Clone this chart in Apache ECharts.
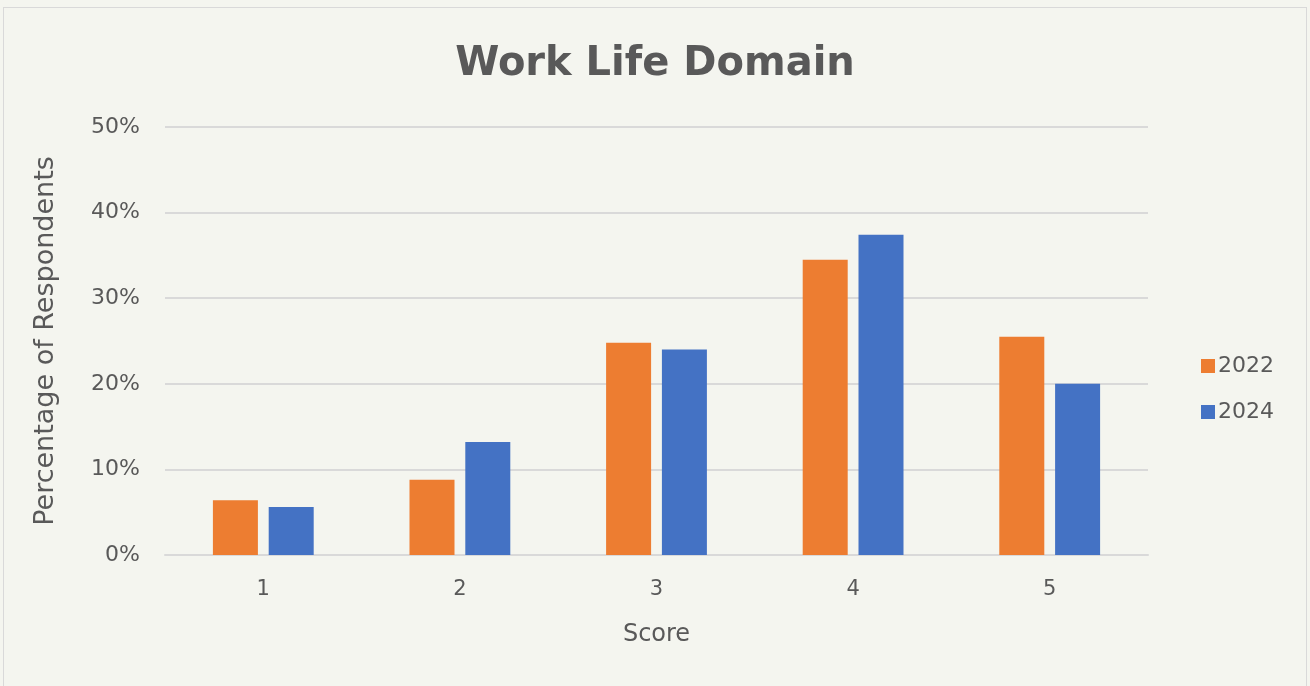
<!DOCTYPE html>
<html>
<head>
<meta charset="utf-8">
<script src="https://cdn.jsdelivr.net/npm/echarts@6/dist/echarts.min.js"></script>
<style>
  html, body { margin: 0; padding: 0; background: #f4f5ef; }
  #frame { position: absolute; left: 3px; top: 7px; width: 1304px; height: 690px; border: 1px solid #d9d9d9; box-sizing: border-box; }
  #main { width: 1310px; height: 686px; }
</style>
</head>
<body>
<div id="frame"></div>
<div id="main"></div>
<script>
  // data
  var scores = ['1', '2', '3', '4', '5'];
  var years = ['2022', '2024'];
  var data2022 = [6.4, 8.8, 24.8, 34.5, 25.5];
  var data2024 = [5.6, 13.2, 24.0, 37.4, 20.0];

  var textColor = '#595959';
  var font = '"DejaVu Sans", sans-serif';

  var myChart = echarts.init(document.getElementById('main'));

  var option = {
    backgroundColor: 'transparent',
    textStyle: { fontFamily: font, color: textColor },
    title: {
      text: 'Work Life Domain',
      left: 'center',
      top: 40,
      textStyle: { fontFamily: font, fontSize: 40, fontWeight: 'bold', color: textColor }
    },
    legend: {
      orient: 'vertical',
      left: 1196,
      top: 350,
      itemGap: 24,
      itemWidth: 14,
      itemHeight: 14,
      icon: 'rect',
      data: years,
      textStyle: { fontFamily: font, fontSize: 22, color: textColor, padding: [0, 0, 0, -2] }
    },
    grid: {
      left: 165,
      right: 162,
      top: 127,
      bottom: 131
    },
    xAxis: {
      type: 'category',
      data: scores,
      name: 'Score',
      nameLocation: 'middle',
      nameGap: 68,
      nameTextStyle: { fontFamily: font, fontSize: 24, color: textColor },
      axisLine: { lineStyle: { color: '#d9d9d9', width: 2 } },
      axisTick: { show: false },
      axisLabel: { fontFamily: font, fontSize: 21, color: textColor, margin: 24 }
    },
    yAxis: {
      type: 'value',
      min: 0,
      max: 50,
      interval: 10,
      name: 'Percentage of Respondents',
      nameLocation: 'middle',
      nameGap: 106,
      nameTextStyle: { fontFamily: font, fontSize: 27, color: textColor },
      axisLine: { show: false },
      axisTick: { show: false },
      splitLine: { lineStyle: { color: '#d9d9d9', width: 2 } },
      axisLabel: { fontFamily: font, fontSize: 22, color: textColor, margin: 25, formatter: '{value}%' }
    },
    series: [
      {
        name: '2022',
        type: 'bar',
        data: data2022,
        barWidth: 45,
        barGap: '24%',
        itemStyle: { color: '#ed7d31' }
      },
      {
        name: '2024',
        type: 'bar',
        data: data2024,
        barWidth: 45,
        itemStyle: { color: '#4472c4' }
      }
    ]
  };

  myChart.setOption(option);
</script>
</body>
</html>
